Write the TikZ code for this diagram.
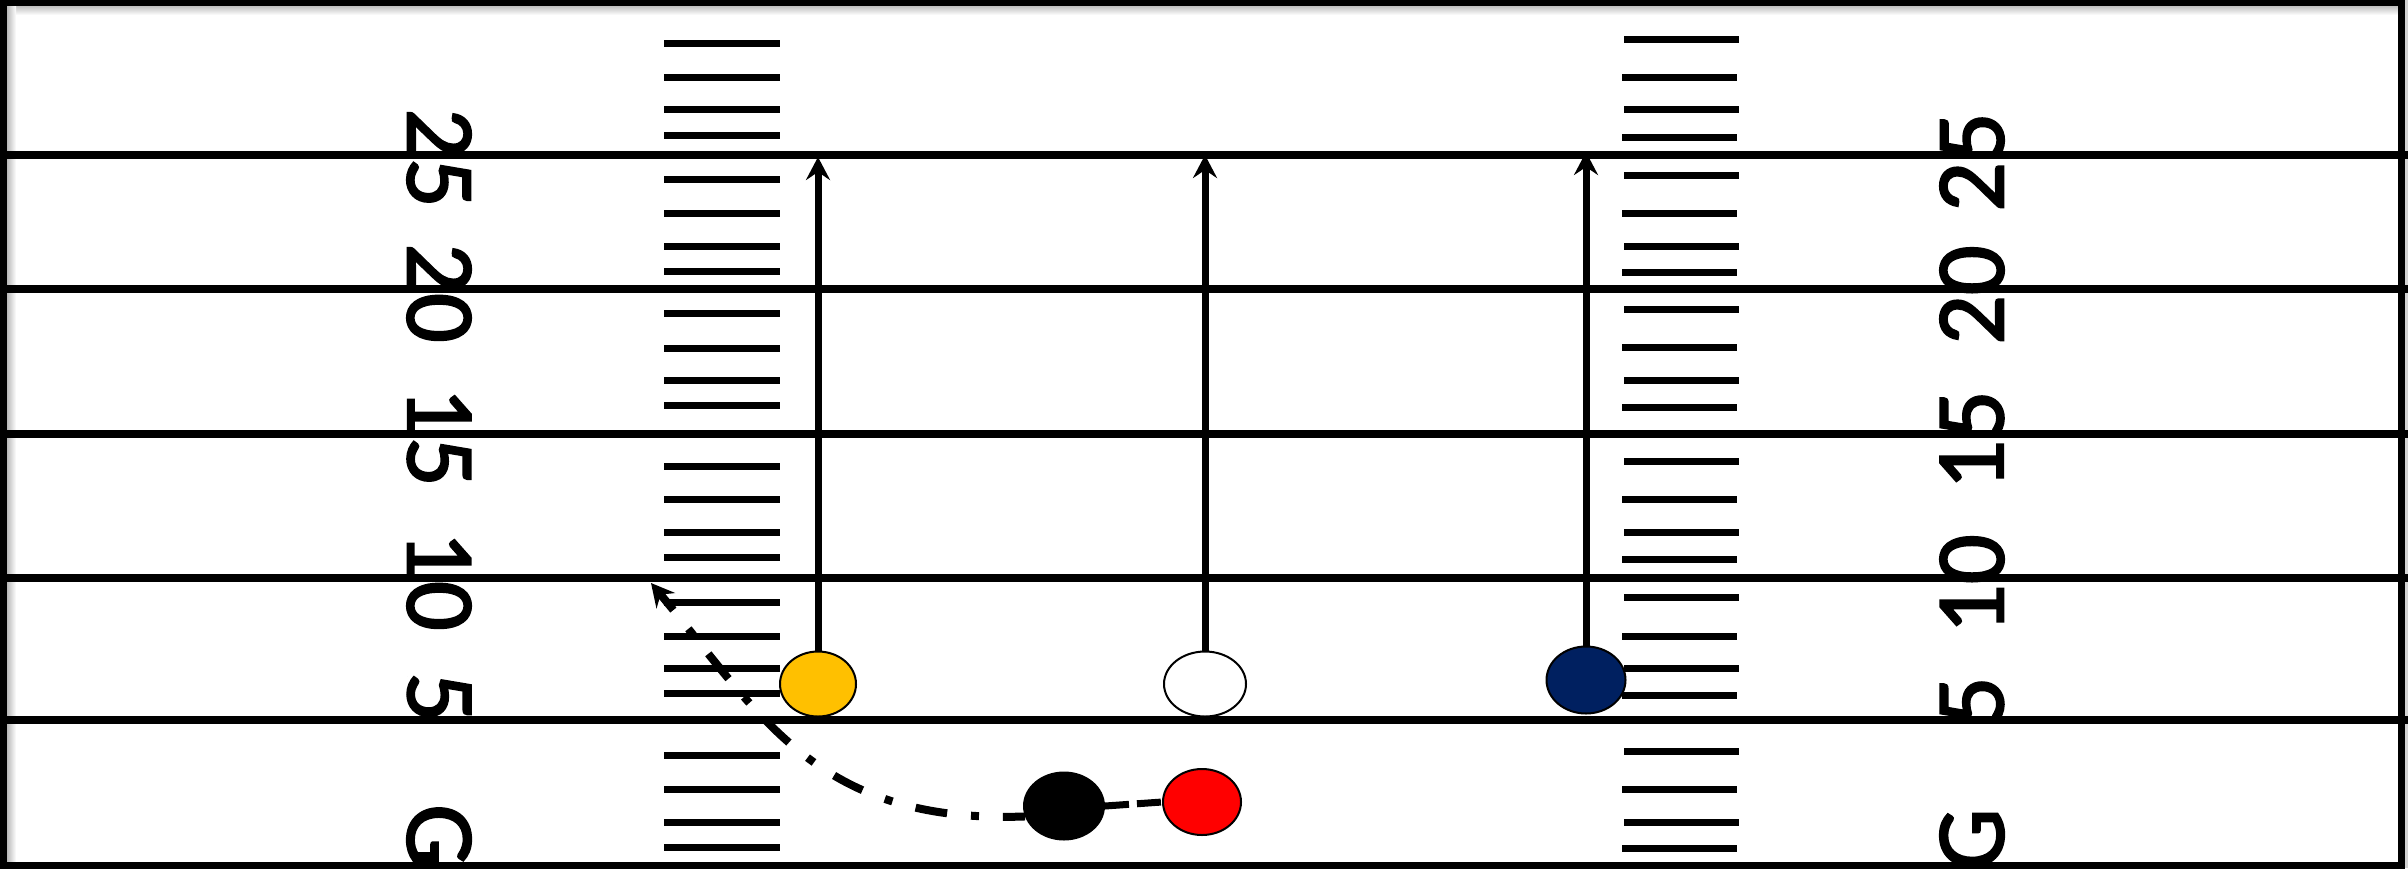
\documentclass[tikz,border=0pt]{standalone}
\usepackage{fontspec}
\newfontfamily\numfont[FakeBold=2]{Carlito}
\usetikzlibrary{arrows.meta,shapes.geometric,backgrounds}
\definecolor{gold}{HTML}{FFC000}
\definecolor{navyblue}{HTML}{002060}
\begin{document}
\begin{tikzpicture}[x=0.5pt,y=-0.5pt,
  yardline/.style={line width=3.75pt},
  goalline/.style={line width=4.25pt},
  hashmark/.style={line width=3.5pt},
  numtext/.style={font=\numfont\fontsize{49}{49}\selectfont, inner sep=0pt},
  leftnum/.style={numtext, rotate=-90, anchor=west},
  rightnum/.style={numtext, rotate=90, anchor=east},
  player/.style={ellipse, draw=black, line width=1pt, inner sep=0pt},
  tip/.style={-{Stealth[length=11.5pt,width=12pt,inset=4pt]}},
  route/.style={line width=3.5pt, tip},
  motion/.style={line width=4pt, dash pattern=on 16pt off 12pt on 4pt off 12pt, dash phase=5pt, tip},
  snap/.style={line width=3.5pt, dash pattern=on 12pt off 4pt}
]
\useasboundingbox (0,0) rectangle (2408,868);

\begin{scope}[on background layer]
  % frame shadow
  \shade[top color=gray!55, bottom color=white] (7,5) rectangle (2398,15);
  \shade[left color=gray!55, right color=white] (7,5) rectangle (16,862);
  \fill[gray!35] (2405,0) rectangle (2408,868);
  % yard lines
  \foreach \yy in {155,289,434,578} \draw[yardline] (0,\yy) -- (2408,\yy);
  \draw[goalline] (0,720) -- (2408,720);
  % hash marks
  \foreach \yy in {43,77,109,135,179,213,246,271,313,348,380,405,466,499,532,557,602,636,668,693,755,789,822,847}
    \draw[hashmark] (664,\yy) -- (780,\yy);
  \foreach \yy in {39,109,175,246,309,380,461,532,597,668,751,822}
    \draw[hashmark] (1624,\yy) -- (1739,\yy);
  \foreach \yy in {77,137,213,272,347,407,499,559,636,695,789,848}
    \draw[hashmark] (1622,\yy) -- (1737,\yy);
  % frame
  \draw[line width=3.5pt] (3.5,2) rectangle (2401.5,865);
\end{scope}

% numbers
\node[leftnum] (l25) at (439,108) {25};
\node[leftnum] (l20) at (439,243) {20};
\node[leftnum] (l15) at (439,387) {15};
\node[leftnum] (l10) at (439,531) {10};
\node[leftnum] (l5) at (439,672) {5};
\node[leftnum] (lg) at (439,804) {G};
\node[rightnum] (r25) at (1972,112) {25};
\node[rightnum] (r20) at (1972,245) {20};
\node[rightnum] (r15) at (1972,390) {15};
\node[rightnum] (r10) at (1972,534) {10};
\node[rightnum] (r5) at (1972,676) {5};
\node[rightnum] (rg) at (1972,808) {G};

% players
\node[player, fill=gold, minimum width=38pt, minimum height=32.5pt] (yellow) at (818,684) {};
\node[player, fill=white, minimum width=41pt, minimum height=32.5pt] (white) at (1205,684) {};
\node[player, fill=navyblue, minimum width=39.5pt, minimum height=33.5pt] (navy) at (1586,680) {};
\node[player, fill=black, minimum width=40pt, minimum height=33.5pt] (black) at (1064,806) {};
\node[player, fill=red, minimum width=39pt, minimum height=33pt] (red) at (1202,802) {};

% route ends
\coordinate (ty) at (818,157);
\coordinate (tw) at (1205,155);
\coordinate (tn) at (1586,152);
\coordinate (tm) at (651,583);

\begin{scope}[on background layer]
  \draw[route] (yellow.north) -- (ty);
  \draw[route] (white.north) -- (tw);
  \draw[route] (navy.north) -- (tn);
  \draw[motion] (black.195) .. controls (816,824) and (761,715) .. (tm);
  \draw[snap] (black.east) -- (red.west);
\end{scope}
\end{tikzpicture}
\end{document}
